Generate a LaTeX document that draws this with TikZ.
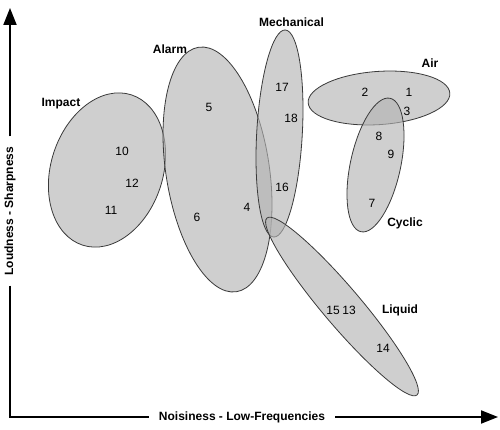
\documentclass[tikz,border=0pt]{standalone}
\usepackage{fontspec}
\setmainfont{Liberation Sans}
\usepackage{tikz}
\usetikzlibrary{arrows.meta}
\definecolor{edgex}{HTML}{3A3A3A}
\definecolor{blobx}{HTML}{B3B3B3}
\tikzset{
  ax/.style={line width=2pt,black},
  axa/.style={ax,-{Triangle[length=17pt,width=13pt]}},
  blob/.style={draw=edgex,line width=0.8pt,fill=blobx,fill opacity=0.63},
  grp/.style={font=\fontsize{12}{14}\selectfont\bfseries,inner sep=0pt},
  num/.style={font=\fontsize{12}{14}\selectfont,inner sep=0pt},
  axlab/.style={font=\fontsize{12}{14}\selectfont\bfseries,inner xsep=10pt,inner ysep=0pt}
}

\begin{document}
\begin{tikzpicture}[x=1pt,y=1pt]
\useasboundingbox (0,0) rectangle (500,429);
% sound groups
\draw[blob,shift={(107,259)},rotate=72] (0,0) circle[x radius=79,y radius=56];
\draw[blob,shift={(217.5,259.5)},rotate=98.8] (0,0) circle[x radius=123.7,y radius=51.7];
\draw[blob,shift={(279.5,295.5)},rotate=86.8] (0,0) circle[x radius=103.7,y radius=22.8];
\draw[blob,shift={(379,331)},rotate=3.9] (0,0) circle[x radius=71,y radius=26.6];
\draw[blob,shift={(375.5,264)},rotate=77.7] (0,0) circle[x radius=68.3,y radius=25.1];
\draw[blob,shift={(342,122.5)},rotate=-49.7] (0,0) circle[x radius=116,y radius=19];
% group names
\node[grp] (impact) at (61,325) {Impact};
\node[grp] (alarm) at (170,380) {Alarm};
\node[grp] (mech) at (291.5,407) {Mechanical};
\node[grp] (air) at (430,366) {Air};
\node[grp] (cyclic) at (405,206) {Cyclic};
\node[grp] (liquid) at (400,119) {Liquid};
% sounds
\node[num] (n10) at (122,278) {10};
\node[num] (n12) at (132,246) {12};
\node[num] (n11) at (111,219) {11};
\node[num] (n5) at (209,322) {5};
\node[num] (n6) at (197,212) {6};
\node[num] (n4) at (247,222) {4};
\node[num] (n17) at (282,342) {17};
\node[num] (n18) at (291,311) {18};
\node[num] (n16) at (282,242) {16};
\node[num] (n2) at (365,337) {2};
\node[num] (n1) at (409,337) {1};
\node[num] (n3) at (407,318) {3};
\node[num] (n8) at (379,293) {8};
\node[num] (n9) at (391,275) {9};
\node[num] (n7) at (372,226) {7};
\node[num] (n15) at (333,119) {15};
\node[num] (n13) at (349,119) {13};
\node[num] (n14) at (383,81) {14};
% axes
\coordinate (org) at (10,12);
\coordinate (ytip) at (10,421);
\coordinate (xtip) at (498,12);
\node[axlab,rotate=90] (ylab) at (10,218) {Loudness - Sharpness};
\node[axlab] (xlab) at (242,12) {Noisiness - Low-Frequencies};
\draw[ax] (ylab.west) -- (org) -- (xlab.west);
\draw[axa] (ylab.east) -- (ytip);
\draw[axa] (xlab.east) -- (xtip);
\end{tikzpicture}
\end{document}
